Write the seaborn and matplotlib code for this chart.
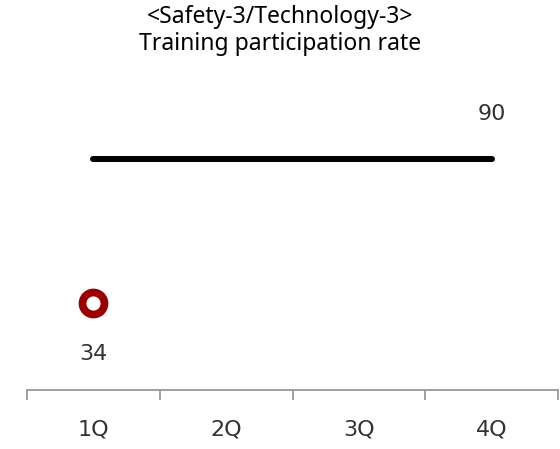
import matplotlib
matplotlib.use("Agg")
import matplotlib.pyplot as plt
import seaborn as sns
import numpy as np
import pandas as pd

quarters = ["1Q", "2Q", "3Q", "4Q"]
target = [90, 90, 90, 90]
actual = [34, np.nan, np.nan, np.nan]
title_lines = ["<Safety-3/Technology-3>", "Training participation rate"]

sns.set_theme(style="white")
plt.rcParams["font.family"] = ["DejaVu Sans"]

df = pd.DataFrame({"quarter": quarters, "target": target, "actual": actual})
pos = np.arange(len(quarters))
df["pos"] = pos

fig = plt.figure(figsize=(5.6, 4.49), dpi=100)
ax = fig.add_axes([27 / 560, 1 - 390 / 449, 531 / 560, 308.6 / 449])

# target line across the year
sns.lineplot(data=df, x="pos", y="target", ax=ax, color="black", linewidth=4.3,
             solid_capstyle="round", legend=False)
# actual result so far
act = df.dropna(subset=["actual"])
sns.scatterplot(data=act, x="pos", y="actual", ax=ax, s=250, color="white",
                edgecolor="#990000", linewidth=5.6, zorder=5, legend=False)

# value labels
label_kw = dict(ha="center", va="center", fontsize=16, color="#333333")
ax.text(pos[-1], target[-1] + 17.5, f"{target[-1]:.0f}", **label_kw)
for p, v in zip(act["pos"], act["actual"]):
    ax.text(p, v - 20, f"{v:.0f}", **label_kw)

ax.set_xlim(-0.5, len(quarters) - 0.5)
ax.set_ylim(0, 120)
ax.set_xlabel("")
ax.set_ylabel("")
ax.set_yticks([])

# boundary ticks between quarters, labels at the centers
ax.set_xticks(np.arange(-0.5, len(quarters), 1.0))
ax.set_xticklabels([])
ax.set_xticks(pos, minor=True)
ax.set_xticklabels(quarters, minor=True, fontsize=16, color="#333333")
ax.tick_params(axis="x", which="major", direction="out", length=7, width=1.3,
               color="#999999", bottom=True)
ax.tick_params(axis="x", which="minor", length=0, pad=21)

for side in ["top", "right", "left"]:
    ax.spines[side].set_visible(False)
ax.spines["bottom"].set_color("#999999")
ax.spines["bottom"].set_linewidth(1.3)

fig.text(0.5, 1 - 17 / 449, title_lines[0], ha="center", va="center",
         fontsize=16.5, family=["Noto Sans"], color="black")
fig.text(0.5, 1 - 44 / 449, title_lines[1], ha="center", va="center",
         fontsize=16.5, family=["Noto Sans"], color="black")

fig.savefig("out.png", dpi=100, facecolor="white")
